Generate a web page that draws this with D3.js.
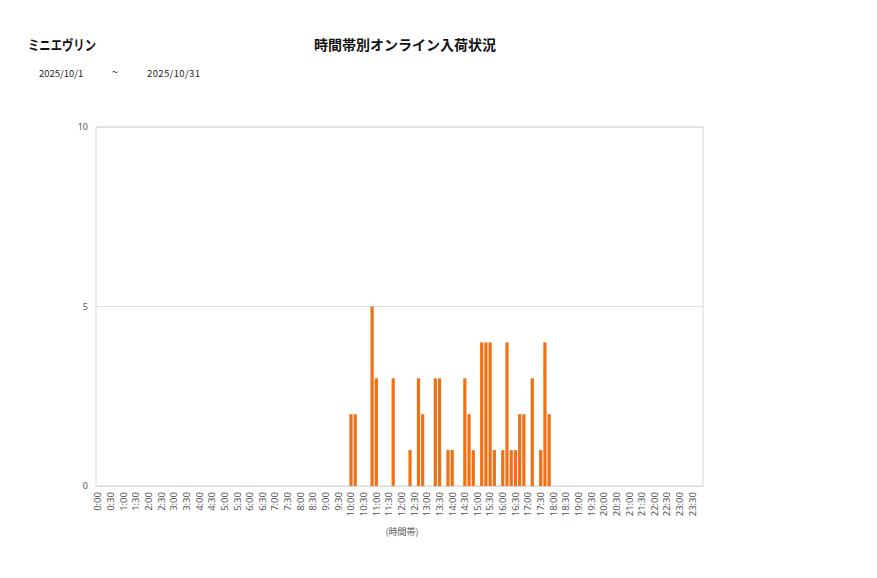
<!DOCTYPE html>
<html><head><meta charset="utf-8">
<script src="https://cdn.jsdelivr.net/npm/d3@7"></script>
<style>
body{margin:0;background:#fff;}
text{font-family:"Noto Sans CJK JP","Noto Sans",sans-serif;}
</style></head>
<body><svg id="c" width="877" height="578"></svg>
<script>
// 10-minute slots (144 per day)
const slots = d3.range(144).map(i => `${Math.floor(i/6)}:${String((i%6)*10).padStart(2,"0")}`);
const tickLabels = d3.range(48).map(i => `${Math.floor(i/2)}:${i%2 ? "30" : "00"}`);
const nonZeroSlots = ["10:00","10:10","10:50","11:00","11:40","12:20","12:40","12:50","13:20","13:30","13:50","14:00","14:30","14:40","14:50","15:10","15:20","15:30","15:40","16:00","16:10","16:20","16:30","16:40","16:50","17:10","17:30","17:40","17:50"];
const nonZeroValues = [2,2,5,3,3,1,3,2,3,3,1,1,3,2,1,4,4,4,1,1,4,1,1,2,2,3,1,4,2];
const yTicks = [0,5,10];
const shopName = "ミニエヴリン";
const chartTitle = "時間帯別オンライン入荷状況";
const dateFrom = "2025/10/1", dateTo = "2025/10/31";
const xTitle = "(時間帯)";

const valueMap = new Map(nonZeroSlots.map((s,i)=>[s,nonZeroValues[i]]));
const data = slots.map(s => ({slot:s, v: valueMap.get(s) || 0}));

const svg = d3.select("#c");
const L=96, R=703, T=127, B=486;
const x = d3.scaleBand().domain(slots).range([L,R]).paddingInner(0.24).paddingOuter(0.12);
const y = d3.scaleLinear().domain([0,10]).range([B,T]);

// header
svg.append("text").attr("x",28).attr("y",50).attr("font-size",14).attr("font-weight","bold").attr("fill","#111")
  .attr("textLength",68).attr("lengthAdjust","spacingAndGlyphs").text(shopName);
svg.append("text").attr("x",405).attr("y",50).attr("text-anchor","middle").attr("font-size",14).attr("font-weight","bold").attr("fill","#111").text(chartTitle);
svg.append("text").attr("x",39).attr("y",77).attr("font-size",9.5).attr("fill","#222").text(dateFrom);
svg.append("text").attr("x",112).attr("y",76).attr("font-size",11).attr("fill","#222").text("~");
svg.append("text").attr("x",147).attr("y",77).attr("font-size",9.5).attr("fill","#222").attr("textLength",53).text(dateTo);

// gridlines
svg.append("g").selectAll("line").data(yTicks.filter(t=>t>0)).join("line")
  .attr("x1",L).attr("x2",R).attr("y1",d=>y(d)).attr("y2",d=>y(d))
  .attr("stroke","#dedede").attr("stroke-width",1);
// frame
svg.append("rect").attr("x",L).attr("y",T).attr("width",R-L).attr("height",B-T)
  .attr("fill","none").attr("stroke","#d9d9d9").attr("stroke-width",1);

// bars
svg.append("g").selectAll("rect").data(data.filter(d=>d.v>0)).join("rect")
  .attr("x",d=>x(d.slot)).attr("width",x.bandwidth())
  .attr("y",d=>y(d.v)).attr("height",d=>y(0)-y(d.v))
  .attr("fill","#f27014");

// y axis
const ya = svg.append("g").attr("transform",`translate(${L},0)`)
  .call(d3.axisLeft(y).tickValues(yTicks).tickSize(0).tickPadding(8).tickFormat(d3.format("d")));
ya.select(".domain").remove();
ya.selectAll("text").attr("font-size",9).attr("fill","#555").style("font-family","'Noto Sans',sans-serif");

// x axis
const xa = svg.append("g").attr("transform",`translate(0,${B})`)
  .call(d3.axisBottom(x).tickValues(slots.filter((s,i)=>i%3===0)).tickSize(0).tickFormat((d,i)=>tickLabels[i]));
xa.select(".domain").attr("stroke","#d9d9d9");
xa.selectAll("text").attr("font-size",9.5).attr("fill","#555")
  .style("font-family","'Noto Sans',sans-serif")
  .attr("transform","rotate(-90)").attr("text-anchor","end")
  .attr("x",-6).attr("y",0).attr("dy","0.35em");

svg.append("text").attr("x",402).attr("y",535).attr("text-anchor","middle").attr("font-size",9).attr("fill","#555").text(xTitle);
</script></body></html>
